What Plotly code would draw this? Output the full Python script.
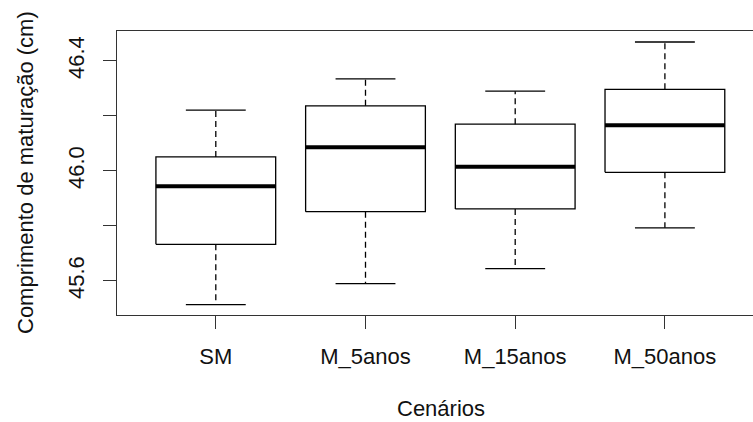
import plotly.graph_objects as go

# ---- data ----
categories = ["SM", "M_5anos", "M_15anos", "M_50anos"]
lower_whisker = [45.514, 45.590, 45.645, 45.793]
q1 = [45.733, 45.852, 45.862, 45.995]
median = [45.944, 46.086, 46.015, 46.166]
q3 = [46.051, 46.237, 46.170, 46.297]
upper_whisker = [46.221, 46.335, 46.290, 46.469]
y_tick_vals = [45.6, 45.8, 46.0, 46.2, 46.4]
y_tick_text = ["45.6", "", "46.0", "", "46.4"]

W, H = 753, 422
L, R, T, B = 117, 0, 31, 107
FONT = "Liberation Sans, Arial, sans-serif"
FS = 22

box_hw = 0.4
cap_hw = 0.2
line_w = 1.3
col = "black"

fig = go.Figure()
for i, cat in enumerate(categories):
    x = i + 1
    # box
    fig.add_trace(go.Scatter(
        x=[x - box_hw, x + box_hw, x + box_hw, x - box_hw, x - box_hw],
        y=[q1[i], q1[i], q3[i], q3[i], q1[i]],
        mode="lines", line=dict(color=col, width=line_w),
        hoverinfo="skip", showlegend=False))
    # whiskers (dashed)
    fig.add_trace(go.Scatter(
        x=[x, x, None, x, x],
        y=[q3[i], upper_whisker[i], None, q1[i], lower_whisker[i]],
        mode="lines", line=dict(color=col, width=line_w, dash="6px,4px"),
        hoverinfo="skip", showlegend=False))
    # caps
    fig.add_trace(go.Scatter(
        x=[x - cap_hw, x + cap_hw, None, x - cap_hw, x + cap_hw],
        y=[upper_whisker[i], upper_whisker[i], None, lower_whisker[i], lower_whisker[i]],
        mode="lines", line=dict(color=col, width=line_w),
        hoverinfo="skip", showlegend=False))
    # median
    fig.add_trace(go.Scatter(
        x=[x - box_hw, x + box_hw], y=[median[i], median[i]],
        mode="lines", line=dict(color=col, width=4),
        hoverinfo="skip", showlegend=False))

plot_w = W - L - R
plot_h = H - T - B
x0 = 0.34
x1 = x0 + plot_w / 149.7

fig.update_layout(
    width=W, height=H,
    margin=dict(l=L, r=R, t=T, b=B, pad=0),
    paper_bgcolor="white", plot_bgcolor="white",
    font=dict(family=FONT, size=FS, color="black"),
    xaxis=dict(range=[x0, x1], tickvals=[1, 2, 3, 4], ticktext=categories,
               ticks="outside", ticklen=13, tickwidth=1.2, tickcolor="#333",
               showline=True, linecolor="#333", linewidth=1.3, mirror=True,
               showgrid=False, zeroline=False, ticklabelstandoff=8,
               tickfont=dict(family=FONT, size=FS, color="#111")),
    yaxis=dict(range=[45.476, 46.509], tickvals=y_tick_vals, ticktext=y_tick_text,
               ticks="outside", ticklen=13, tickwidth=1.2, tickcolor="#333",
               showline=True, linecolor="#333", linewidth=1.3, mirror=False,
               showgrid=False, zeroline=False, tickangle=-90, ticklabelstandoff=10,
               tickfont=dict(family=FONT, size=FS, color="#111")),
)

def px_to_paper_x(px):
    return (px - L) / plot_w

def px_to_paper_y(py):
    return (H - B - py) / plot_h

fig.add_annotation(text="Comprimento de maturação (cm)", xref="paper", yref="paper",
                   x=px_to_paper_x(25), y=px_to_paper_y(173), showarrow=False,
                   textangle=-90, xanchor="center", yanchor="middle",
                   font=dict(family=FONT, size=FS, color="#111"))
fig.add_annotation(text="Cenários", xref="paper", yref="paper",
                   x=px_to_paper_x(441), y=px_to_paper_y(408), showarrow=False,
                   xanchor="center", yanchor="middle",
                   font=dict(family=FONT, size=FS, color="#111"))

fig.write_html("out.html")
